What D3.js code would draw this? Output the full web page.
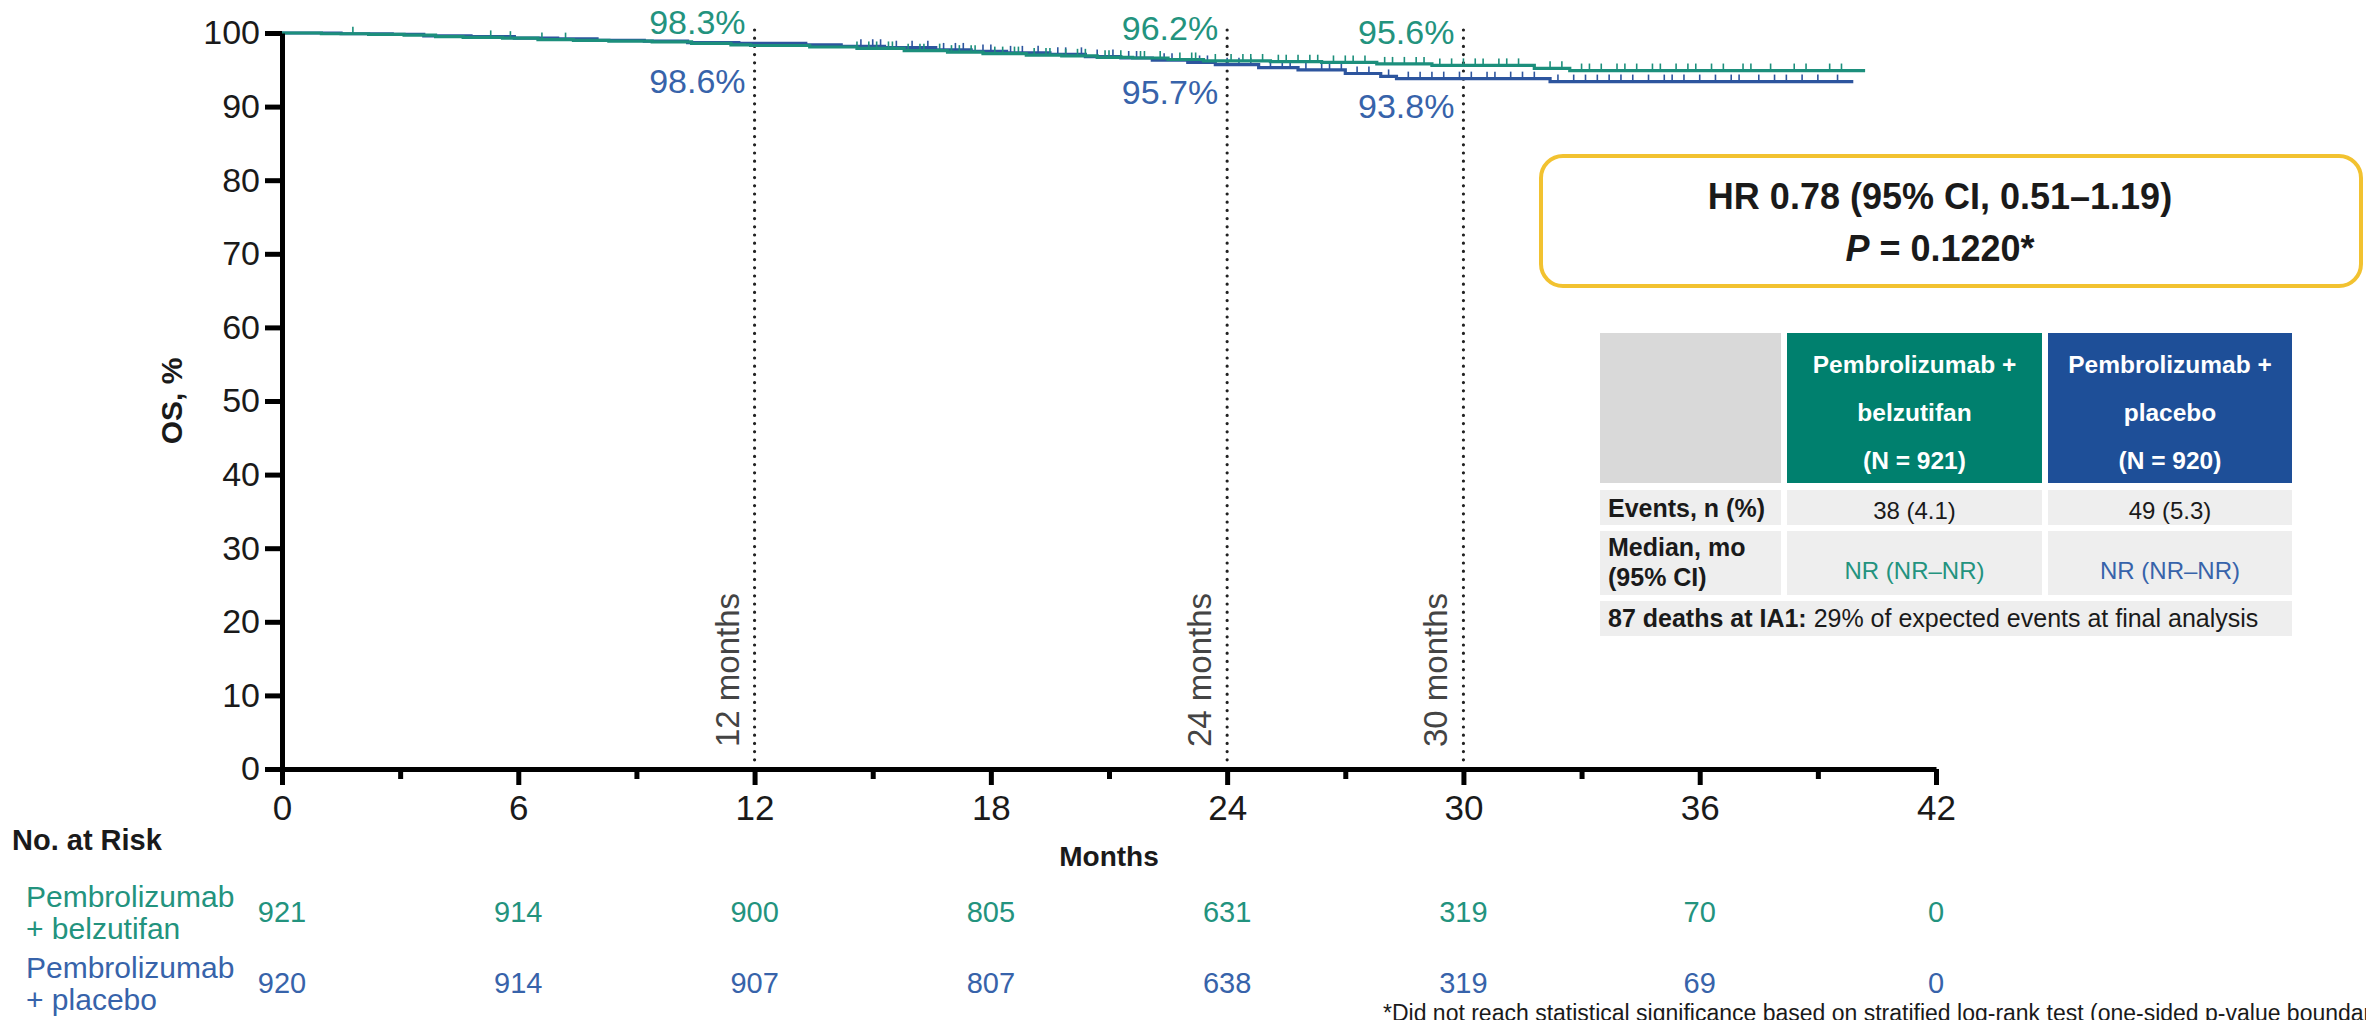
<!DOCTYPE html>
<html>
<head>
<meta charset="utf-8">
<script src="https://cdn.jsdelivr.net/npm/d3@7"></script>
<style>
  html, body { margin: 0; padding: 0; background: #fff; }
  svg { display: block; font-family: "Liberation Sans", Arial, Helvetica, sans-serif; }
</style>
</head>
<body>
<svg id="chart" width="2366" height="1020"></svg>
<script>
// ---- Data ---------------------------------------------------------------
const xTicks = [0, 6, 12, 18, 24, 30, 36, 42];
const xMinorTicks = [3, 9, 15, 21, 27, 33, 39];
const yTicks = [0, 10, 20, 30, 40, 50, 60, 70, 80, 90, 100];

// Kaplan-Meier steps: [month, OS %]
const belzSteps = [
  [0, 100], [1.0, 99.9], [2.2, 99.8], [3.1, 99.7], [3.9, 99.5], [4.6, 99.4],
  [5.6, 99.3], [6.5, 99.1], [7.4, 99.0], [8.3, 98.9], [9.4, 98.8], [10.4, 98.6],
  [11.4, 98.4], [11.9, 98.3], [13.4, 98.1], [14.6, 97.9], [15.8, 97.6],
  [16.9, 97.4], [17.8, 97.2], [18.9, 97.0], [19.8, 96.9], [20.7, 96.7],
  [21.6, 96.6], [22.5, 96.4], [23.4, 96.2], [25.1, 96.1], [26.4, 96.0],
  [27.8, 95.8], [29.2, 95.6], [31.8, 95.2], [32.7, 94.9]
];
const belzEnd = 40.2;

const placSteps = [
  [0, 100], [1.5, 99.9], [2.8, 99.8], [3.6, 99.6], [4.8, 99.5], [5.9, 99.3],
  [7.0, 99.2], [8.0, 99.0], [9.2, 98.9], [10.3, 98.7], [11.6, 98.6], [13.3, 98.4],
  [14.2, 98.2], [15.3, 98.0], [16.6, 97.7], [17.5, 97.5], [18.4, 97.3],
  [19.5, 97.1], [20.4, 96.8], [21.3, 96.6], [22.1, 96.3], [23.0, 96.0],
  [23.7, 95.7], [24.8, 95.3], [25.8, 95.0], [27.0, 94.5], [27.9, 94.1],
  [28.3, 93.8], [32.2, 93.4]
];
const placEnd = 39.9;

// censoring times (months)
const belzCensor = [
  1.8, 5.3, 5.8, 6.6, 7.2, 14.6, 14.9, 15.1, 15.4, 15.5, 15.9, 16.2, 16.3, 16.7,
  17.0, 17.2, 17.5, 17.6, 18.1, 18.3, 18.6, 18.7, 19.1, 19.4, 19.5, 19.9, 20.2,
  20.4, 20.9, 21.0, 21.3, 21.8, 21.9, 22.3, 22.8, 23.1, 23.2, 23.7, 24.1, 24.4,
  24.6, 24.9, 25.3, 25.5, 25.8, 26.1, 26.3, 26.7, 27.0, 27.2, 27.5, 28.0, 28.2,
  28.5, 28.8, 29.0, 29.4, 29.7, 30.0, 30.3, 30.5, 30.9, 31.1, 31.4, 32.2, 32.5,
  33.0, 33.2, 33.5, 33.9, 34.1, 34.4, 34.8, 35.0, 35.4, 35.7, 35.9, 36.3, 36.6,
  37.1, 37.3, 37.8, 38.4, 38.7, 39.3, 39.6
];
const placCensor = [
  14.7, 15.0, 15.2, 15.6, 16.0, 16.4, 16.8, 17.1, 17.3, 17.8, 18.0, 18.5, 18.8,
  19.2, 19.7, 19.9, 20.3, 20.7, 21.1, 21.5, 21.7, 22.4, 22.6, 23.3, 23.5, 24.0,
  24.3, 24.6, 25.1, 25.4, 25.6, 26.0, 26.4, 26.6, 26.9, 27.3, 27.6, 28.1, 28.6,
  28.9, 29.2, 29.5, 29.9, 30.2, 30.6, 30.8, 31.2, 31.5, 31.8, 32.4, 32.8, 33.1,
  33.4, 33.7, 34.0, 34.3, 34.7, 35.1, 35.3, 35.6, 36.0, 36.4, 36.8, 37.0, 37.5,
  37.9, 38.2, 38.6, 39.0, 39.5
];

// landmark estimates
const landmarkMonths = [12, 24, 30];
const belzLandmark = [98.3, 96.2, 95.6];
const placLandmark = [98.6, 95.7, 93.8];

// number at risk
const riskMonths = [0, 6, 12, 18, 24, 30, 36, 42];
const belzRisk = [921, 914, 900, 805, 631, 319, 70, 0];
const placRisk = [920, 914, 907, 807, 638, 319, 69, 0];

// summary table
const armNames = [["Pembrolizumab +", "belzutifan", "(N = 921)"], ["Pembrolizumab +", "placebo", "(N = 920)"]];
const eventsText = ["38 (4.1)", "49 (5.3)"];
const medianText = ["NR (NR\u2013NR)", "NR (NR\u2013NR)"];

// ---- Styles -------------------------------------------------------------
const TEAL = "#1c8f7c";
const BLUE = "#2d559e";
const TEAL_TXT = "#23937e";
const BLUE_TXT = "#3763aa";
const INK = "#1a1a1a";

const svg = d3.select("#chart");
const x = d3.scaleLinear().domain([0, 42]).range([282, 1936]);
const y = d3.scaleLinear().domain([0, 100]).range([769, 33]);

// ---- Landmark dotted lines ---------------------------------------------
const lm = svg.append("g");
landmarkMonths.forEach((m, i) => {
  lm.append("line")
    .attr("x1", x(m)).attr("x2", x(m))
    .attr("y1", 30).attr("y2", y(0) - 4)
    .attr("stroke", "#222").attr("stroke-width", 3.2)
    .attr("stroke-linecap", "round")
    .attr("stroke-dasharray", "0,8.2");
  lm.append("text")
    .attr("x", x(m) - 9).attr("y", Math.max(34, y(belzLandmark[i]) - 21))
    .attr("text-anchor", "end").attr("font-size", 34).attr("fill", TEAL_TXT)
    .text(belzLandmark[i].toFixed(1) + "%");
  lm.append("text")
    .attr("x", x(m) - 9).attr("y", Math.max(93, y(placLandmark[i]) + 39))
    .attr("text-anchor", "end").attr("font-size", 34).attr("fill", BLUE_TXT)
    .text(placLandmark[i].toFixed(1) + "%");
  lm.append("text")
    .attr("transform", `translate(${x(m) - 16},${y(0) - 22}) rotate(-90)`)
    .attr("font-size", 33).attr("fill", "#444")
    .text(m + " months");
});

// ---- Curves ------------------------------------------------------------
const stepLine = d3.line()
  .x(d => x(d[0])).y(d => y(d[1]))
  .curve(d3.curveStepAfter);

function survAt(steps, t) {
  const i = d3.bisector(d => d[0]).right(steps, t) - 1;
  return steps[Math.max(0, i)][1];
}

function drawArm(steps, endMonth, censor, color) {
  const pts = steps.concat([[endMonth, steps[steps.length - 1][1]]]);
  const g = svg.append("g");
  g.append("path").datum(pts)
    .attr("d", stepLine)
    .attr("fill", "none").attr("stroke", color).attr("stroke-width", 3.2);
  g.selectAll("line.cens").data(censor).join("line")
    .attr("class", "cens")
    .attr("x1", d => x(d)).attr("x2", d => x(d))
    .attr("y1", d => y(survAt(steps, d)))
    .attr("y2", d => y(survAt(steps, d)) - 7)
    .attr("stroke", color).attr("stroke-width", 1.6);
}
drawArm(placSteps, placEnd, placCensor, BLUE);
drawArm(belzSteps, belzEnd, belzCensor, TEAL);

// ---- Axes --------------------------------------------------------------
const yAxis = svg.append("g")
  .attr("transform", `translate(${x(0)},0)`)
  .call(d3.axisLeft(y).tickValues(yTicks).tickSize(17).tickSizeOuter(0).tickPadding(5));
yAxis.select(".domain").attr("stroke", "#000").attr("stroke-width", 5);
yAxis.selectAll(".tick line").attr("stroke", "#000").attr("stroke-width", 5);
yAxis.selectAll(".tick text").attr("font-size", 34).attr("fill", INK)
  .attr("font-family", "Liberation Sans, Arial, sans-serif");

const xAxis = svg.append("g")
  .attr("transform", `translate(0,${y(0)})`)
  .call(d3.axisBottom(x).tickValues(xTicks).tickSize(16).tickSizeOuter(0).tickPadding(10));
xAxis.select(".domain").attr("stroke", "#000").attr("stroke-width", 5);
xAxis.selectAll(".tick line").attr("stroke", "#000").attr("stroke-width", 5);
xAxis.selectAll(".tick text").attr("font-size", 35).attr("fill", INK)
  .attr("font-family", "Liberation Sans, Arial, sans-serif");

const xMinor = svg.append("g")
  .attr("transform", `translate(0,${y(0)})`)
  .call(d3.axisBottom(x).tickValues(xMinorTicks).tickSize(10).tickFormat(""));
xMinor.select(".domain").remove();
xMinor.selectAll(".tick line").attr("stroke", "#000").attr("stroke-width", 5);

// axis titles
svg.append("text")
  .attr("transform", `translate(182,${(y(0) + y(100)) / 2}) rotate(-90)`)
  .attr("text-anchor", "middle").attr("font-size", 30).attr("font-weight", "bold")
  .attr("fill", INK).text("OS, %");
svg.append("text")
  .attr("x", (x(0) + x(42)) / 2).attr("y", 866)
  .attr("text-anchor", "middle").attr("font-size", 28).attr("font-weight", "bold")
  .attr("fill", INK).text("Months");

// ---- Number at risk ----------------------------------------------------
svg.append("text").attr("x", 12).attr("y", 850)
  .attr("font-size", 29).attr("font-weight", "bold").attr("fill", INK)
  .text("No. at Risk");

function riskRow(label2, counts, color, yNum, yLab) {
  const lab = svg.append("text").attr("font-size", 30).attr("fill", color);
  lab.append("tspan").attr("x", 26).attr("y", yLab).text("Pembrolizumab");
  lab.append("tspan").attr("x", 26).attr("y", yLab + 32).text(label2);
  svg.append("g").selectAll("text").data(counts).join("text")
    .attr("x", (d, i) => x(riskMonths[i])).attr("y", yNum)
    .attr("text-anchor", "middle").attr("font-size", 29).attr("fill", color)
    .text(d => d);
}
riskRow("+ belzutifan", belzRisk, TEAL_TXT, 922, 907);
riskRow("+ placebo", placRisk, BLUE_TXT, 993, 978);

// footnote
svg.append("text").attr("x", 1383).attr("y", 1021)
  .attr("font-size", 23).attr("fill", INK)
  .text("*Did not reach statistical significance based on stratified log-rank test (one-sided p-value boundary = 0.0003)");

// ---- Hazard ratio box --------------------------------------------------
svg.append("rect")
  .attr("x", 1541).attr("y", 156).attr("width", 820).attr("height", 130)
  .attr("rx", 22).attr("fill", "#fff")
  .attr("stroke", "#f2c230").attr("stroke-width", 4);
svg.append("text").attr("x", 1940).attr("y", 209)
  .attr("text-anchor", "middle").attr("font-size", 36).attr("font-weight", "bold")
  .attr("fill", INK).text("HR 0.78 (95% CI, 0.51\u20131.19)");
const pTxt = svg.append("text").attr("x", 1940).attr("y", 261)
  .attr("text-anchor", "middle").attr("font-size", 36).attr("font-weight", "bold")
  .attr("fill", INK);
pTxt.append("tspan").attr("font-style", "italic").text("P");
pTxt.append("tspan").text(" = 0.1220*");

// ---- Summary table -----------------------------------------------------
const tbl = svg.append("g");
const colX = [1600, 1787, 2048];
const colW = [181, 255, 244];
const hdrFill = ["#d9d9d9", "#00806e", "#1e4f98"];
hdrFill.forEach((f, i) => {
  tbl.append("rect").attr("x", colX[i]).attr("y", 333)
    .attr("width", colW[i]).attr("height", 150).attr("fill", f);
});
armNames.forEach((lines, i) => {
  const cx = colX[i + 1] + colW[i + 1] / 2;
  lines.forEach((ln, k) => {
    tbl.append("text").attr("x", cx).attr("y", 373 + k * 48)
      .attr("text-anchor", "middle").attr("font-size", 24.5).attr("font-weight", "bold")
      .attr("fill", "#fff").text(ln);
  });
});
// body rows
[[490, 35], [531, 64]].forEach(([ry, rh]) => {
  colX.forEach((cx, i) => {
    tbl.append("rect").attr("x", cx).attr("y", ry)
      .attr("width", colW[i]).attr("height", rh).attr("fill", "#eeeeee");
  });
});
tbl.append("rect").attr("x", 1600).attr("y", 601)
  .attr("width", colX[2] + colW[2] - 1600).attr("height", 35).attr("fill", "#eeeeee");

tbl.append("text").attr("x", 1608).attr("y", 517)
  .attr("font-size", 25).attr("font-weight", "bold").attr("fill", INK).text("Events, n (%)");
const med = tbl.append("text").attr("font-size", 25).attr("font-weight", "bold").attr("fill", INK);
med.append("tspan").attr("x", 1608).attr("y", 556).text("Median, mo");
med.append("tspan").attr("x", 1608).attr("y", 586).text("(95% CI)");

eventsText.forEach((t, i) => {
  tbl.append("text").attr("x", colX[i + 1] + colW[i + 1] / 2).attr("y", 519)
    .attr("text-anchor", "middle").attr("font-size", 24).attr("fill", INK).text(t);
});
medianText.forEach((t, i) => {
  tbl.append("text").attr("x", colX[i + 1] + colW[i + 1] / 2).attr("y", 579)
    .attr("text-anchor", "middle").attr("font-size", 24)
    .attr("fill", i === 0 ? TEAL_TXT : BLUE_TXT).text(t);
});
const foot = tbl.append("text").attr("x", 1608).attr("y", 627)
  .attr("font-size", 25).attr("fill", INK);
foot.append("tspan").attr("font-weight", "bold").text("87 deaths at IA1:");
foot.append("tspan").text(" 29% of expected events at final analysis");
</script>
</body>
</html>
